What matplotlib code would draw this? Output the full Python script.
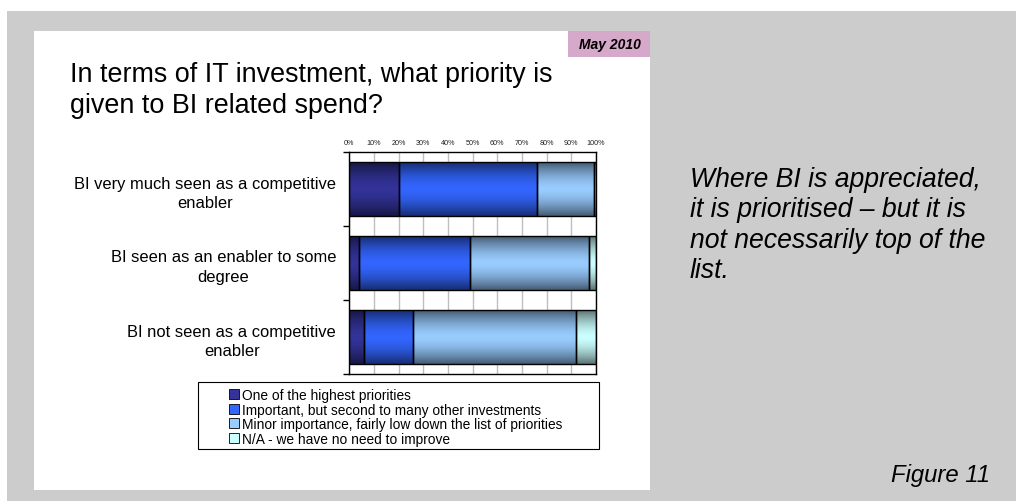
import numpy as np
import matplotlib.pyplot as plt
from matplotlib.patches import Rectangle
from matplotlib.colors import to_rgb

plt.rcParams['font.family'] = ['Liberation Sans', 'DejaVu Sans']

# survey answers, percent of respondents
categories = ['BI very much seen as a competitive\nenabler',
              'BI seen as an enabler to some\ndegree',
              'BI not seen as a competitive\nenabler']
series = ['One of the highest priorities',
          'Important, but second to many other investments',
          'Minor importance, fairly low down the list of priorities',
          'N/A - we have no need to improve']
highest = [20, 4, 6]
important = [56, 45, 20]
minor = [23, 48, 66]
no_need = [1, 3, 8]
xticks = [0, 10, 20, 30, 40, 50, 60, 70, 80, 90, 100]

base_cols = ['#333399', '#3366ff', '#99ccff', '#ccffff']

W, H = 1016, 502
fig = plt.figure(figsize=(W / 100, H / 100), dpi=100)
fig.patch.set_facecolor('white')


def box(x0, y0, x1, y1, **kw):
    # rectangle in pixel coords (top-left origin)
    r = Rectangle((x0 / W, 1 - y1 / H), (x1 - x0) / W, (y1 - y0) / H,
                  transform=fig.transFigure, zorder=0, **kw)
    fig.add_artist(r)
    return r


box(7, 12, W, H, facecolor='#cccccc', edgecolor='none')
box(34, 32, 650, 491, facecolor='white', edgecolor='none')
box(568, 32, 650, 58, facecolor='#d6a8c9', edgecolor='none')
# legend frame
box(198, 383, 599, 450, facecolor='white', edgecolor='black', linewidth=0.8)

fig.text(610 / W, 1 - 45 / H, 'May 2010', fontsize=10, fontweight='bold',
         fontstyle='italic', ha='center', va='center')
# multi-line texts are placed by the baseline of their last line
fig.text(70 / W, 1 - 113 / H,
         'In terms of IT investment, what priority is\ngiven to BI related spend?',
         fontsize=19.4, va='baseline', ha='left', linespacing=1.25)
fig.text(690 / W, 1 - 278 / H,
         'Where BI is appreciated,\nit is prioritised \u2013 but it is\n'
         'not necessarily top of the\nlist.',
         fontsize=19.2, fontstyle='italic', va='baseline', ha='left',
         linespacing=1.22)
fig.text(891 / W, 1 - 482 / H, 'Figure 11', fontsize=17.2,
         fontstyle='italic', va='baseline', ha='left')

ax = fig.add_axes([349.3 / W, 1 - 375 / H, 246.7 / W, 222 / H])
ax.set_facecolor('white')

y = np.arange(len(categories))
values = [highest, important, minor, no_need]
left = np.zeros(len(categories))
bar_groups = []
for vals, name, col in zip(values, series, base_cols):
    bars = ax.barh(y, vals, left=left, height=0.72, color=col,
                   edgecolor='black', linewidth=1, label=name, zorder=3)
    bar_groups.append((bars, col))
    left = left + np.array(vals)

leg = fig.legend(loc='upper left', bbox_to_anchor=(229 / W, 1 - 389 / H),
                 fontsize=9.9, frameon=False,
                 handlelength=0.72, handleheight=0.72, handletextpad=0.25,
                 borderpad=0, labelspacing=0.04, borderaxespad=0)
for h in leg.legend_handles:
    h.set_linewidth(0.6)

# shaded fills: dark at top and bottom edges, bright in the middle
t = np.linspace(0, 1, 64)
shade = 1 - np.abs(2 * t - 1) ** 1.6
for bars, col in bar_groups:
    c = np.array(to_rgb(col))
    dark = c * 0.45
    grad = dark[None, :] + (c - dark)[None, :] * shade[:, None]
    img = grad[:, None, :]
    for b in bars:
        x0, y0 = b.get_x(), b.get_y()
        w, h = b.get_width(), b.get_height()
        ax.imshow(img, extent=[x0, x0 + w, y0 + h, y0], aspect='auto',
                  interpolation='bilinear', zorder=2.5)
        b.set_facecolor('none')

ax.set_xlim(0, 100)
ax.set_ylim(len(categories) - 0.5, -0.5)

ax.xaxis.tick_top()
ax.set_xticks(xticks)
ax.set_xticklabels([f'{v}%' for v in xticks], fontsize=5.2, color='#222222')
ax.tick_params(axis='x', length=0, pad=4)
ax.grid(axis='x', color='#bfbfbf', linewidth=1, zorder=1)
ax.set_axisbelow(True)

ax.set_yticks(y)
ax.set_yticklabels(categories, fontsize=11.9, multialignment='center',
                   linespacing=1.36)
ax.tick_params(axis='y', which='major', length=0, pad=9.4)
ax.set_yticks(np.arange(-0.5, len(categories)), minor=True)
ax.tick_params(axis='y', which='minor', length=4, width=1, color='black',
               direction='out')

for s in ax.spines.values():
    s.set_color('black')
    s.set_linewidth(1)

fig.savefig('out.png', dpi=100, facecolor=fig.get_facecolor())
